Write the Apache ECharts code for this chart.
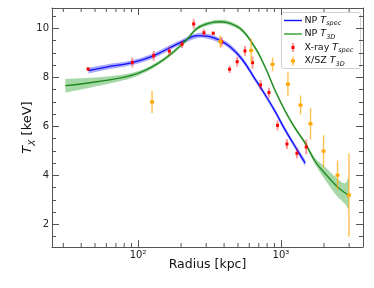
<!DOCTYPE html>
<html><head><meta charset="utf-8">
<script src="https://cdn.jsdelivr.net/npm/echarts@6/dist/echarts.min.js"></script>
<style>html,body{margin:0;padding:0;background:#fff}#c{width:374px;height:288px}</style>
</head><body><div id="c"></div>
<script>
// NP T_spec model (blue)
const blueR  = [45, 60, 91, 128, 168, 208, 259, 304, 376, 442, 533, 661, 777, 912, 1072, 1259, 1479];
const blueT  = [8.28, 8.42, 8.60, 8.88, 9.22, 9.48, 9.70, 9.68, 9.50, 9.24, 8.75, 7.92, 7.28, 6.60, 5.85, 5.17, 4.50];
const blueLo = [8.16, 8.31, 8.50, 8.78, 9.12, 9.38, 9.60, 9.58, 9.40, 9.14, 8.65, 7.82, 7.18, 6.50, 5.75, 5.06, 4.37];
const blueHi = [8.40, 8.53, 8.70, 8.98, 9.32, 9.58, 9.80, 9.78, 9.60, 9.34, 8.85, 8.02, 7.38, 6.70, 5.95, 5.28, 4.63];
// NP T_3D model (green)
const greenR  = [31, 46, 79, 104, 136, 177, 220, 259, 320, 376, 442, 533, 661, 777, 912, 1072, 1259, 1479, 1738, 1986, 2466, 2790, 2990];
const greenT  = [7.66, 7.78, 8.00, 8.20, 8.55, 9.04, 9.55, 10.00, 10.22, 10.27, 10.20, 9.93, 9.20, 8.40, 7.45, 6.62, 5.92, 5.31, 4.56, 4.15, 3.55, 3.30, 3.18];
const greenLo = [7.38, 7.58, 7.88, 8.11, 8.47, 8.96, 9.47, 9.92, 10.14, 10.19, 10.12, 9.85, 9.12, 8.32, 7.37, 6.54, 5.84, 5.22, 4.45, 3.92, 3.16, 2.85, 2.60];
const greenHi = [7.93, 7.98, 8.12, 8.29, 8.63, 9.12, 9.63, 10.08, 10.30, 10.35, 10.28, 10.01, 9.28, 8.48, 7.53, 6.70, 6.00, 5.40, 4.70, 4.40, 3.88, 3.68, 3.94];
// X-ray T_spec points: radius, T, error
const xrayR   = [44.7, 91.2, 128.5, 165.6, 203, 245, 289, 336, 385, 437, 494, 560, 632, 720, 824, 946, 1101, 1294, 1503];
const xrayT   = [8.34, 8.61, 8.88, 9.07, 9.35, 10.18, 9.82, 9.80, 9.45, 8.33, 8.64, 9.08, 8.60, 7.69, 7.38, 6.04, 5.28, 4.90, 5.16];
const xrayErr = [0.08, 0.20, 0.20, 0.18, 0.15, 0.20, 0.15, 0.07, 0.20, 0.15, 0.20, 0.20, 0.25, 0.20, 0.20, 0.20, 0.20, 0.20, 0.30];
// X/SZ T_3D points
const xszR   = [125.3, 376, 619, 873, 1119, 1371, 1610, 1986, 2488, 2990];
const xszT   = [7.00, 9.46, 9.10, 8.53, 7.72, 6.87, 6.11, 4.99, 4.01, 3.20];
const xszErr = [0.45, 0.25, 0.50, 0.28, 0.48, 0.39, 0.65, 0.65, 0.60, 1.70];
// axis ticks
const xMinorTicks = [30, 40, 50, 60, 70, 80, 90, 200, 300, 400, 500, 600, 700, 800, 900, 2000, 3000];
const xMin = 25, xMax = 3750, yMin = 1.08, yMax = 10.83;

const FONT = 'DejaVu Sans';
const AX = '#555';
const SMOOTH = 0.4;
const chart = echarts.init(document.getElementById('c'));

function pairs(xs, ys) { return xs.map((x, i) => [x, ys[i]]); }
function errData(xs, ys, es) { return xs.map((x, i) => [x, ys[i], es[i]]); }

// bezier path through pixel points (same scheme as the line series smoothing)
function smoothPath(pts, moveFirst) {
  let d = (moveFirst ? 'M' : 'L') + pts[0][0] + ',' + pts[0][1];
  const n = pts.length;
  function cps(i) {
    const p = pts[i], pr = pts[Math.max(i - 1, 0)], nx = pts[Math.min(i + 1, n - 1)];
    const vx = nx[0] - pr[0], vy = nx[1] - pr[1];
    const l0 = Math.hypot(p[0] - pr[0], p[1] - pr[1]);
    const l1 = Math.hypot(nx[0] - p[0], nx[1] - p[1]);
    const ratio = (l0 + l1) > 0 ? l1 / (l0 + l1) : 0.5;
    return {
      before: [p[0] - vx * SMOOTH * (1 - ratio), p[1] - vy * SMOOTH * (1 - ratio)],
      after: [p[0] + vx * SMOOTH * ratio, p[1] + vy * SMOOTH * ratio]
    };
  }
  for (let i = 0; i < n - 1; i++) {
    const a = cps(i).after, b = cps(i + 1).before, q = pts[i + 1];
    d += 'C' + a[0] + ',' + a[1] + ',' + b[0] + ',' + b[1] + ',' + q[0] + ',' + q[1];
  }
  return d;
}
function bandRender(xs, lo, hi, color) {
  return function (params, api) {
    if (params.dataIndex !== 0) return null;
    const up = xs.map((x, i) => api.coord([x, hi[i]]));
    const dn = xs.map((x, i) => api.coord([x, lo[i]])).reverse();
    const d = smoothPath(up, true) + smoothPath(dn, false) + 'Z';
    return { type: 'path', shape: { pathData: d }, style: { fill: color, stroke: null } };
  };
}

function errRender(barColor, barW, markColor, mw, mh) {
  return function (params, api) {
    const r = api.value(0), t = api.value(1), e = api.value(2);
    const p = api.coord([r, t]);
    const lo = api.coord([r, t - e]);
    const hi = api.coord([r, t + e]);
    return {
      type: 'group', children: [
        { type: 'line', shape: { x1: p[0], y1: lo[1], x2: p[0], y2: hi[1] }, style: { stroke: barColor, lineWidth: barW } },
        { type: 'rect', shape: { x: p[0] - mw / 2, y: p[1] - mh / 2, width: mw, height: mh }, style: { fill: markColor } }
      ]
    };
  };
}

const supMap = { 2: '²', 3: '³' };
function xLabel(v) {
  const l = Math.log10(v);
  const k = Math.round(l);
  if (Math.abs(l - k) < 1e-6 && v > xMin * 1.01 && v < xMax * 0.99) return '10' + (supMap[k] || '');
  return '';
}
function yLabel(v) {
  const k = Math.round(v);
  if (Math.abs(v - k) < 1e-6 && k % 2 === 0) return String(k);
  return '';
}
function legendText(t) {
  return {
    text: t, fontSize: 9.5, fontFamily: FONT, fill: '#111', verticalAlign: 'middle', align: 'left', lineHeight: 13,
    rich: {
      it: { fontStyle: 'italic', fontSize: 9.5, fontFamily: FONT, fill: '#111', lineHeight: 13 },
      sub: { fontStyle: 'italic', fontSize: 6.5, fontFamily: FONT, fill: '#111', lineHeight: 7, verticalAlign: 'bottom' }
    }
  };
}

const option = {
  animation: false,
  grid: { left: 52, right: 11, top: 8, bottom: 41, containLabel: false },
  xAxis: [
    {
      type: 'log', logBase: 10, min: xMin, max: xMax, position: 'bottom',
      axisLine: { show: true, lineStyle: { color: AX, width: 1 } },
      axisTick: { show: true, inside: true, length: 7, lineStyle: { color: AX, width: 1 } },
      axisLabel: { formatter: xLabel, margin: 3, fontSize: 10, color: '#222', fontFamily: FONT },
      splitLine: { show: false },
      name: 'Radius [kpc]', nameLocation: 'middle', nameGap: 11, nameMoveOverlap: false,
      nameTextStyle: { fontSize: 12.5, color: '#111', fontFamily: FONT }
    },
    {
      type: 'log', logBase: 10, min: xMin, max: xMax, position: 'top',
      axisLine: { show: true, lineStyle: { color: AX, width: 1 } },
      axisTick: { show: true, inside: true, length: 7, lineStyle: { color: AX, width: 1 } },
      axisLabel: { show: false }, splitLine: { show: false }
    }
  ],
  yAxis: [
    {
      type: 'value', min: yMin, max: yMax, position: 'left', splitNumber: 5,
      axisLine: { show: true, lineStyle: { color: AX, width: 1 } },
      axisTick: { show: true, inside: true, length: 7, lineStyle: { color: AX, width: 1 } },
      minorTick: { show: true, splitNumber: 4, length: 4, lineStyle: { color: AX, width: 1 } },
      axisLabel: { formatter: yLabel, margin: 3, fontSize: 10, color: '#222', fontFamily: FONT },
      splitLine: { show: false }, minorSplitLine: { show: false },
      name: '{it|T}{sub|X} [keV]', nameLocation: 'middle', nameGap: 15, nameRotate: 90, nameMoveOverlap: false,
      nameTextStyle: {
        fontSize: 13, color: '#111', fontFamily: FONT, lineHeight: 18,
        rich: {
          it: { fontStyle: 'italic', fontSize: 13, fontFamily: FONT, color: '#111', lineHeight: 18 },
          sub: { fontStyle: 'italic', fontSize: 9, fontFamily: FONT, color: '#111', lineHeight: 10, verticalAlign: 'bottom' }
        }
      }
    },
    {
      type: 'value', min: yMin, max: yMax, position: 'right', splitNumber: 5,
      axisLine: { show: true, lineStyle: { color: AX, width: 1 } },
      axisTick: { show: true, inside: true, length: 7, lineStyle: { color: AX, width: 1 } },
      minorTick: { show: true, splitNumber: 4, length: 4, lineStyle: { color: AX, width: 1 } },
      axisLabel: { show: false }, splitLine: { show: false }
    }
  ],
  series: [
    { type: 'custom', name: 'blueBand', data: pairs(blueR, blueT), encode: { x: 0, y: 1 }, z: 1, silent: true,
      renderItem: bandRender(blueR, blueLo, blueHi, 'rgba(40,40,255,0.40)') },
    { type: 'line', name: 'NP Tspec', data: pairs(blueR, blueT), symbol: 'none', smooth: SMOOTH, lineStyle: { color: '#1010ff', width: 1.3 }, z: 2 },
    { type: 'custom', name: 'greenBand', data: pairs(greenR, greenT), encode: { x: 0, y: 1 }, z: 3, silent: true,
      renderItem: bandRender(greenR, greenLo, greenHi, 'rgba(44,160,44,0.42)') },
    { type: 'line', name: 'NP T3D', data: pairs(greenR, greenT), symbol: 'none', smooth: SMOOTH, lineStyle: { color: '#1f8a1f', width: 1.3 }, z: 4 },
    { type: 'custom', name: 'X-ray', data: errData(xrayR, xrayT, xrayErr), encode: { x: 0, y: 1 }, z: 5,
      renderItem: errRender('rgba(255,0,0,0.4)', 2, '#ff0000', 3, 3) },
    { type: 'custom', name: 'XSZ', data: errData(xszR, xszT, xszErr), encode: { x: 0, y: 1 }, z: 6,
      renderItem: errRender('rgba(255,165,0,0.7)', 1.4, '#ffa500', 4, 3) },
    { type: 'custom', name: 'xminor', data: xMinorTicks.map(v => [v, yMin]), encode: { x: 0, y: 1 }, z: 7, silent: true,
      renderItem: function (params, api) {
        const x = api.coord([api.value(0), yMin])[0];
        const cs = params.coordSys;
        const yb = cs.y + cs.height, yt = cs.y;
        return { type: 'group', children: [
          { type: 'line', shape: { x1: x, y1: yb, x2: x, y2: yb - 4 }, style: { stroke: AX, lineWidth: 1 } },
          { type: 'line', shape: { x1: x, y1: yt, x2: x, y2: yt + 4 }, style: { stroke: AX, lineWidth: 1 } }
        ] };
      } }
  ],
  graphic: [
    {
      type: 'group', left: 281, top: 12, z: 100,
      children: [
        { type: 'rect', shape: { x: 0, y: 0, width: 79, height: 56, r: 2.5 }, style: { fill: 'rgba(255,255,255,0.85)', stroke: '#d0d0d0', lineWidth: 1 } },
        { type: 'line', shape: { x1: 2.5, y1: 8, x2: 20.5, y2: 8 }, style: { stroke: '#1010ff', lineWidth: 1.4 } },
        { type: 'line', shape: { x1: 2.5, y1: 21.5, x2: 20.5, y2: 21.5 }, style: { stroke: '#2ca02c', lineWidth: 1.4 } },
        { type: 'line', shape: { x1: 11.5, y1: 30.5, x2: 11.5, y2: 39.5 }, style: { stroke: 'rgba(255,0,0,0.4)', lineWidth: 2 } },
        { type: 'rect', shape: { x: 10, y: 33.5, width: 3, height: 3 }, style: { fill: '#ff0000' } },
        { type: 'line', shape: { x1: 11.5, y1: 44, x2: 11.5, y2: 53 }, style: { stroke: 'rgba(255,165,0,0.7)', lineWidth: 1.4 } },
        { type: 'rect', shape: { x: 9.5, y: 47, width: 4, height: 3 }, style: { fill: '#ffa500' } },
        { type: 'text', x: 23, y: 8, style: legendText('NP {it|T}{sub|spec}') },
        { type: 'text', x: 23, y: 21.5, style: legendText('NP {it|T}{sub|3D}') },
        { type: 'text', x: 23, y: 35, style: legendText('X-ray {it|T}{sub|spec}') },
        { type: 'text', x: 23, y: 48.5, style: legendText('X/SZ {it|T}{sub|3D}') }
      ]
    }
  ]
};
chart.setOption(option);
</script>
</body></html>
